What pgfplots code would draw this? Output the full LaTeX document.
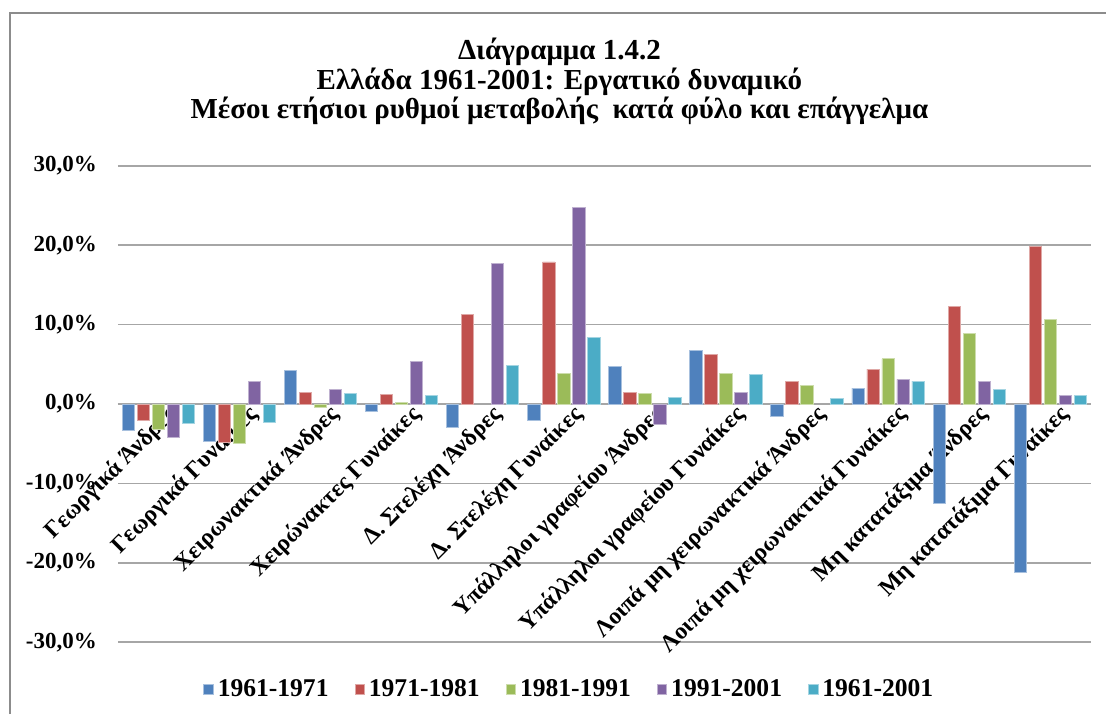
\documentclass[border=0pt]{standalone}
\usepackage{fontspec}
\setmainfont{Liberation Serif}
\usepackage{pgfplots}
\pgfplotsset{compat=1.18}
\definecolor{c1}{HTML}{4F81BD}
\definecolor{c2}{HTML}{C0504D}
\definecolor{c3}{HTML}{9BBB59}
\definecolor{c4}{HTML}{8064A2}
\definecolor{c5}{HTML}{4BACC6}
\definecolor{gridgray}{HTML}{A6A6A6}
\definecolor{framegray}{HTML}{8C8C8C}
\begin{document}
\begin{tikzpicture}
\path (0,0) rectangle (553.5pt,357.5pt);
\draw[framegray, line width=1.2pt] (5pt,0) -- (5pt,351pt) -- (553.5pt,351pt);
\node[anchor=base, font=\fontsize{14.5}{15}\selectfont\bfseries] at (280pt,327.5pt) {Διάγραμμα 1.4.2};
\node[anchor=base, font=\fontsize{14.5}{15}\selectfont\bfseries] at (280pt,312.5pt) {Ελλάδα 1961-2001: Εργατικό δυναμικό};
\node[anchor=base, font=\fontsize{14.5}{15}\selectfont\bfseries] at (280pt,298pt) {Μέσοι ετήσιοι ρυθμοί μεταβολής\ \ κατά φύλο και επάγγελμα};
\begin{axis}[
  set layers,
  at={(59pt,36pt)}, anchor=south west,
  scale only axis, width=487pt, height=238.5pt,
  xmin=-0.5, xmax=11.5, ymin=-30, ymax=30,
  axis x line*=middle, axis y line*=left,
  x axis line style={gridgray, line width=0.8pt},
  y axis line style={draw=none},
  major tick length=0pt,
  ytick={-30,-20,-10,0,10,20,30},
  ymajorgrids, grid style={gridgray, line width=0.8pt},
  xtick={0,...,11},
  xticklabels={Γεωργικά Άνδρες, Γεωργικά Γυναίκες, Χειρωνακτικά Άνδρες, Χειρώνακτες Γυναίκες, Δ. Στελέχη Άνδρες, Δ. Στελέχη Γυναίκες, Υπάλληλοι γραφείου Άνδρες, Υπάλληλοι γραφείου Γυναίκες, Λοιπά μη χειρωνακτικά Άνδρες, Λοιπά μη χειρωνακτικά Γυναίκες, Μη κατατάξιμα Άνδρες, Μη κατατάξιμα Γυναίκες},
  xticklabel style={rotate=45, anchor=north east, font=\fontsize{11.8}{12}\selectfont\bfseries, xshift=4pt, yshift=-1pt, inner sep=1pt},
  yticklabel={\pgfmathprintnumber[fixed,fixed zerofill,precision=1,use comma]{\tick}\%},
  yticklabel style={font=\fontsize{11.5}{12}\selectfont\bfseries, xshift=-7pt},
  /pgf/number format/assume math mode=true,
  ybar, bar width=0.152,
  legend columns=5,
  legend style={at={(0.465,-0.0985)}, anchor=center, draw=none, fill=none,
    font=\fontsize{12.8}{13}\selectfont\bfseries,
    /tikz/every even column/.append style={column sep=11pt}},
  legend image code/.code={\fill[#1] (0pt,-2.6pt) rectangle (4.8pt,2.6pt);},
]
\addplot[fill=c1, draw=c1!50!white, line width=0.4pt, bar shift=-0.37] coordinates {
(0,-3.3) (1,-4.7) (2,4.2) (3,-0.9) (4,-2.9) (5,-2.0) (6,4.7) (7,6.8) (8,-1.5) (9,2.0) (10,-12.5) (11,-21.2)};
\addplot[fill=c2, draw=c2!50!white, line width=0.4pt, bar shift=-0.185] coordinates {
(0,-2.0) (1,-4.8) (2,1.5) (3,1.2) (4,11.3) (5,17.9) (6,1.5) (7,6.2) (8,2.9) (9,4.4) (10,12.3) (11,19.8)};
\addplot[fill=c3, draw=c3!50!white, line width=0.4pt, bar shift=0] coordinates {
(0,-3.2) (1,-4.9) (2,-0.4) (3,0.2) (5,3.9) (6,1.3) (7,3.9) (8,2.3) (9,5.7) (10,8.9) (11,10.7)};
\addplot[fill=c4, draw=c4!50!white, line width=0.4pt, bar shift=0.185] coordinates {
(0,-4.2) (1,2.8) (2,1.8) (3,5.4) (4,17.7) (5,24.8) (6,-2.6) (7,1.5) (9,3.1) (10,2.9) (11,1.1)};
\addplot[fill=c5, draw=c5!50!white, line width=0.4pt, bar shift=0.37] coordinates {
(0,-2.4) (1,-2.3) (2,1.3) (3,1.1) (4,4.9) (5,8.4) (6,0.8) (7,3.7) (8,0.7) (9,2.9) (10,1.8) (11,1.1)};
\legend{1961-1971, 1971-1981, 1981-1991, 1991-2001, 1961-2001}
\end{axis}
\end{tikzpicture}
\end{document}
